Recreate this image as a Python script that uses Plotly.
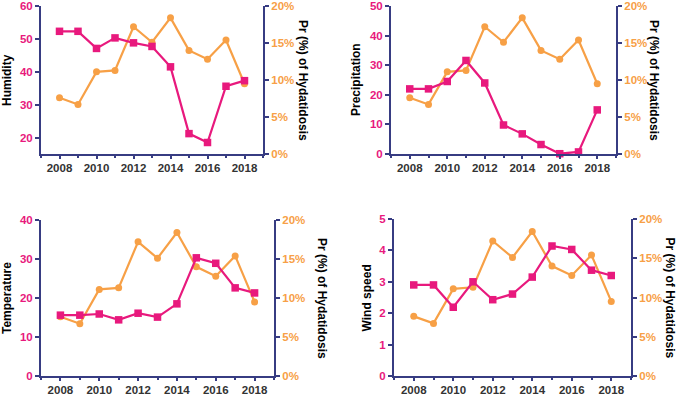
import plotly.graph_objects as go

years = list(range(2008, 2019))
prevalence = [7.6, 6.7, 11.1, 11.3, 17.2, 15.1, 18.4, 14.0, 12.8, 15.4, 9.5]

humidity = [52.3, 52.3, 47.1, 50.3, 48.8, 47.7, 41.5, 21.2, 18.5, 35.6, 37.3]
precipitation = [22.0, 22.0, 24.5, 31.6, 24.0, 9.8, 6.8, 3.2, 0.1, 0.7, 14.9]
temperature = [15.6, 15.6, 15.9, 14.4, 16.1, 15.1, 18.5, 30.3, 28.9, 22.6, 21.3]
wind_speed = [2.9, 2.9, 2.19, 3.0, 2.43, 2.61, 3.15, 4.14, 4.03, 3.37, 3.2]

pct_ticks = [0, 5, 10, 15, 20]
pct_labels = ["0%", "5%", "10%", "15%", "20%"]
year_ticks = [2008, 2010, 2012, 2014, 2016, 2018]

titles = ["Humidity", "Precipitation", "Temperature", "Wind speed"]
series = [humidity, precipitation, temperature, wind_speed]
left_ranges = [[15, 60], [0, 50], [0, 40], [0, 5]]
left_dticks = [10, 10, 10, 1]
right_title = "Pr (%) of Hydatidosis"

MAG = "#E8197D"
ORA = "#F7A046"
NAVY = "#373C82"
FONT = "Liberation Sans, Arial, Helvetica, sans-serif"

W, H = 677, 395
# panel boxes in pixels: (left, right, top, bottom)
boxes = [(41, 263, 6, 154), (391, 616, 6, 154), (41, 274, 220, 376), (394, 631, 219, 376)]
left_title_x = [7, 356, 7, 366]
right_title_x = [303, 654, 322, 670]

fig = go.Figure()
layout = dict(width=W, height=H, margin=dict(l=0, r=0, t=0, b=0, autoexpand=False),
              plot_bgcolor="white", paper_bgcolor="white", showlegend=False,
              font=dict(family=FONT, color="#000000"))
annotations = []

for i in range(4):
    l, r, t, b = boxes[i]
    xd = [l / W, r / W]
    yd = [1 - b / H, 1 - t / H]
    xn = "x" if i == 0 else f"x{i+1}"
    yr = 2 * i + 1
    yl = 2 * i + 2
    yrn = "y" if yr == 1 else f"y{yr}"
    yln = f"y{yl}"
    xkey = "xaxis" if i == 0 else f"xaxis{i+1}"
    yrkey = "yaxis" if yr == 1 else f"yaxis{yr}"
    ylkey = f"yaxis{yl}"

    layout[xkey] = dict(domain=xd, anchor=yrn, range=[2007, 2019], automargin=False,
                        tickmode="array", tickvals=year_ticks,
                        ticktext=[str(v) for v in year_ticks],
                        showgrid=False, zeroline=False, showline=True,
                        linecolor=NAVY, linewidth=2, ticks="outside",
                        ticklen=3, tickwidth=2, tickcolor=NAVY, ticklabelstandoff=-1,
                        minor=dict(ticks="outside", ticklen=2, tickwidth=2,
                                   tickcolor=NAVY, dtick=1, tick0=2007, showgrid=False),
                        tickfont=dict(family=FONT, size=11.5, color="#333333", weight="bold"))
    layout[yrkey] = dict(domain=yd, anchor=xn, side="right", range=[0, 20], automargin=False,
                         tickmode="array", tickvals=pct_ticks, ticktext=pct_labels,
                         showgrid=False, zeroline=False, showline=True,
                         linecolor=NAVY, linewidth=2, ticks="outside",
                         ticklen=4, tickwidth=2, tickcolor=NAVY,
                         tickfont=dict(family=FONT, size=11.5, color=ORA, weight="bold"))
    layout[ylkey] = dict(overlaying=yrn, anchor=xn, side="left", automargin=False,
                         range=left_ranges[i], dtick=left_dticks[i], tick0=0,
                         showgrid=False, zeroline=False, showline=True,
                         linecolor=NAVY, linewidth=2, ticks="outside",
                         ticklen=4, tickwidth=2, tickcolor=NAVY,
                         tickfont=dict(family=FONT, size=11.5, color=MAG, weight="bold"))

    fig.add_trace(go.Scatter(x=years, y=prevalence, xaxis=xn, yaxis=yrn,
                             mode="lines+markers", cliponaxis=False,
                             line=dict(color=ORA, width=2.2),
                             marker=dict(symbol="circle", size=7, color=ORA)))
    fig.add_trace(go.Scatter(x=years, y=series[i], xaxis=xn, yaxis=yln,
                             mode="lines+markers", cliponaxis=False,
                             line=dict(color=MAG, width=2.2),
                             marker=dict(symbol="square", size=7.5, color=MAG)))

    yc = 1 - ((t + b) / 2) / H
    annotations.append(dict(text=titles[i], xref="paper", yref="paper",
                            x=left_title_x[i] / W, y=yc, textangle=-90,
                            showarrow=False, xanchor="center", yanchor="middle",
                            font=dict(family=FONT, size=12, color="#000000", weight="bold")))
    annotations.append(dict(text=right_title, xref="paper", yref="paper",
                            x=right_title_x[i] / W, y=yc, textangle=90,
                            showarrow=False, xanchor="center", yanchor="middle",
                            font=dict(family=FONT, size=12, color="#000000", weight="bold")))

layout["annotations"] = annotations
fig.update_layout(**layout)
fig.write_html("out.html", config={"displayModeBar": False},
               post_script="document.body.style.margin='0';document.body.style.padding='0';document.body.style.overflow='hidden';")
